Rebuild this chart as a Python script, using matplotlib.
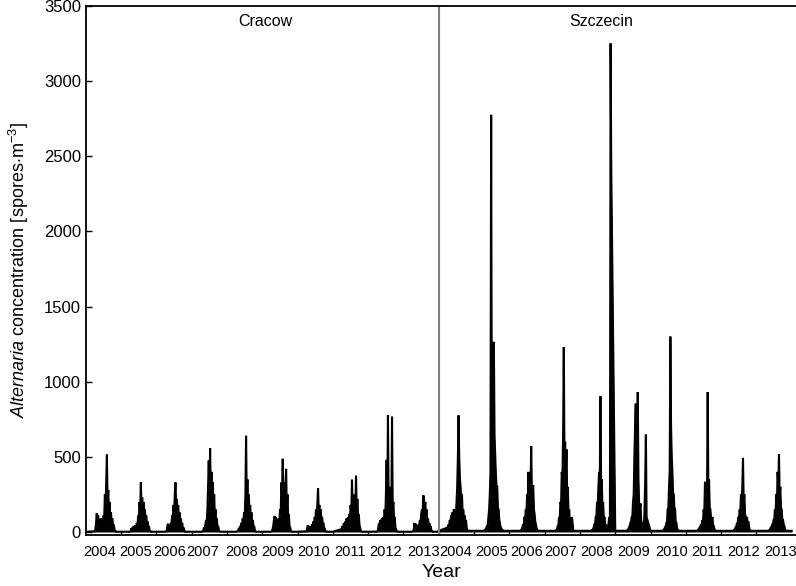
import numpy as np
import matplotlib.pyplot as plt

plt.rcParams['font.family'] = ['Liberation Sans', 'DejaVu Sans']
plt.rcParams['mathtext.fontset'] = 'custom'
plt.rcParams['mathtext.rm'] = 'Liberation Sans'
plt.rcParams['mathtext.it'] = 'Liberation Sans:italic'

years = ['2004', '2005', '2006', '2007', '2008', '2009', '2010', '2011', '2012', '2013']
sites = ['Cracow', 'Szczecin']

# season samples every 7 days starting at day 93 of each year (spores per m3)
first_day = 93
step_days = 7
offseason = {'Cracow': 2, 'Szczecin': 8}

cracow = [
    [5, 20, 60, 125, 50, 110, 40, 85, 45, 90, 40, 80, 50, 110, 90, 250, 160, 330, 515, 170, 280, 120, 200, 90, 130, 60, 90, 40, 50, 20, 10, 3, 2, 2],
    [2, 5, 25, 10, 35, 15, 40, 20, 45, 30, 60, 40, 110, 80, 200, 140, 330, 150, 230, 120, 200, 100, 150, 70, 110, 50, 70, 30, 40, 10, 5, 2, 2, 2],
    [2, 3, 5, 40, 55, 25, 40, 30, 60, 50, 110, 80, 180, 130, 250, 330, 160, 220, 120, 180, 90, 130, 60, 90, 40, 60, 20, 30, 10, 3, 2, 2, 2, 2],
    [2, 2, 3, 5, 10, 30, 20, 50, 80, 60, 150, 300, 475, 250, 558, 250, 400, 200, 330, 150, 250, 100, 150, 60, 90, 30, 40, 10, 5, 2, 2, 2, 2, 2],
    [2, 3, 5, 10, 20, 15, 30, 25, 60, 40, 90, 60, 130, 100, 250, 640, 200, 350, 150, 250, 120, 180, 90, 130, 60, 80, 30, 40, 10, 3, 2, 2, 2, 2],
    [2, 5, 20, 40, 80, 105, 50, 100, 40, 70, 50, 90, 60, 150, 120, 330, 250, 487, 200, 330, 180, 300, 420, 150, 250, 100, 120, 40, 30, 10, 3, 2, 2, 2],
    [5, 30, 45, 20, 40, 20, 35, 25, 50, 35, 70, 50, 100, 80, 150, 120, 180, 290, 140, 180, 110, 150, 80, 100, 50, 60, 30, 20, 8, 3, 2, 2, 2, 2],
    [20, 40, 25, 60, 40, 70, 50, 90, 60, 100, 70, 120, 90, 180, 120, 348, 150, 250, 140, 220, 150, 374, 140, 220, 100, 120, 50, 30, 10, 3, 2, 2, 2, 2],
    [3, 10, 40, 60, 30, 80, 40, 90, 50, 100, 70, 150, 100, 250, 480, 200, 778, 200, 300, 150, 250, 150, 767, 150, 200, 80, 100, 30, 20, 5, 3, 2, 2, 2],
    [2, 5, 20, 60, 25, 55, 20, 40, 25, 50, 40, 80, 60, 120, 150, 120, 244, 230, 140, 200, 100, 150, 60, 90, 40, 60, 30, 40, 10, 5, 3, 2, 2, 2],
]

szczecin = [
    [30, 50, 40, 80, 60, 110, 70, 130, 90, 150, 100, 140, 120, 200, 300, 500, 776, 500, 350, 300, 200, 250, 130, 150, 90, 110, 60, 80, 30, 15, 8, 8, 8, 8],
    [8, 8, 10, 15, 20, 30, 40, 50, 100, 150, 250, 400, 2775, 500, 700, 600, 1265, 640, 500, 380, 300, 300, 150, 150, 80, 60, 30, 25, 15, 10, 10, 8, 8, 8],
    [8, 8, 8, 10, 12, 20, 30, 50, 40, 100, 80, 150, 120, 250, 200, 400, 250, 350, 300, 570, 250, 280, 312, 150, 120, 70, 50, 25, 15, 10, 8, 8, 8, 8],
    [8, 8, 8, 10, 15, 20, 40, 40, 100, 80, 200, 180, 400, 350, 650, 1230, 500, 600, 400, 550, 250, 300, 120, 150, 60, 90, 50, 100, 60, 10, 8, 8, 8, 8],
    [8, 8, 8, 8, 10, 15, 20, 30, 50, 50, 100, 100, 200, 180, 300, 400, 300, 903, 300, 350, 150, 200, 80, 100, 40, 50, 20, 30, 30, 60, 100, 40, 3250, 2400],
    [8, 8, 8, 8, 10, 15, 20, 30, 40, 60, 60, 100, 100, 200, 250, 500, 700, 854, 500, 600, 931, 350, 190, 150, 190, 80, 60, 40, 30, 20, 150, 350, 648, 100],
    [8, 8, 8, 8, 8, 10, 15, 20, 30, 30, 60, 60, 150, 150, 300, 400, 1300, 710, 500, 400, 250, 250, 150, 150, 60, 60, 20, 15, 10, 8, 8, 8, 8, 8],
    [8, 8, 8, 8, 10, 15, 20, 30, 30, 50, 40, 80, 60, 150, 120, 334, 180, 250, 250, 931, 250, 350, 150, 150, 80, 80, 100, 40, 40, 20, 10, 8, 8, 8],
    [8, 8, 8, 8, 8, 10, 15, 20, 30, 30, 60, 50, 100, 80, 150, 130, 250, 200, 300, 493, 200, 250, 120, 100, 80, 100, 50, 70, 30, 15, 10, 8, 8, 8],
    [8, 8, 8, 8, 8, 10, 15, 20, 30, 30, 50, 50, 80, 80, 150, 120, 250, 200, 400, 300, 518, 250, 300, 150, 150, 80, 80, 50, 40, 20, 10, 8, 8, 8],
]

# where the year labels sit along the axis (in years from the start)
label_x = [0.38, 1.40, 2.39, 3.32, 4.42, 5.45, 6.47, 7.49, 8.48, 9.56,
           10.49, 11.50, 12.49, 13.46, 14.48, 15.51, 16.60, 17.59, 18.63, 19.67]

# build one continuous series: 10 years Cracow then 10 years Szczecin
xs, ys = [], []
for s, site in enumerate(sites):
    rows = cracow if site == 'Cracow' else szczecin
    for k, row in enumerate(rows):
        start = s * len(years) + k
        days = first_day + step_days * np.arange(len(row))
        xs += [start] + list(start + days / 365.0) + [start + 1]
        ys += [offseason[site]] + list(row) + [offseason[site]]
xs = np.array(xs)
ys = np.array(ys)

fig = plt.figure(figsize=(7.96, 5.86), dpi=100)
ax = fig.add_axes([0.1077, 0.087, 0.8936, 0.903])

# daily values oscillate so densely that the seasons read as solid black
ax.fill_between(xs, 0, ys, color='black', lw=0)
ax.plot(xs, ys, color='black', lw=1.5, solid_joinstyle='miter')
n = len(years)
ax.axvline(n, color='#808080', lw=1.5)

ax.set_xlim(0, 2 * n + 0.15)
ax.set_ylim(-20, 3500)
ax.set_yticks(np.arange(0, 3501, 500))

ax.set_xticks(np.arange(1, 2 * n))
ax.set_xticklabels([])
ax.set_xticks(label_x, minor=True)
ax.set_xticklabels(years + years, minor=True, fontsize=10.5)
ax.tick_params(axis='x', which='minor', length=0, pad=7)
ax.tick_params(axis='x', which='major', direction='in', length=3, width=1)
ax.tick_params(axis='y', direction='in', length=4, width=1, labelsize=12)

for sp in ax.spines.values():
    sp.set_linewidth(1.3)

ax.text(5.1, 3395, 'Cracow', ha='center', va='center', fontsize=11.5)
ax.text(14.6, 3395, 'Szczecin', ha='center', va='center', fontsize=11.5)

ax.set_xlabel('Year', fontsize=14, labelpad=4)
ax.set_ylabel(r'$\it{Alternaria}$ concentration [spores$\cdot$m$^{-3}$]', fontsize=13, labelpad=9)

fig.savefig('out.png', dpi=100)
